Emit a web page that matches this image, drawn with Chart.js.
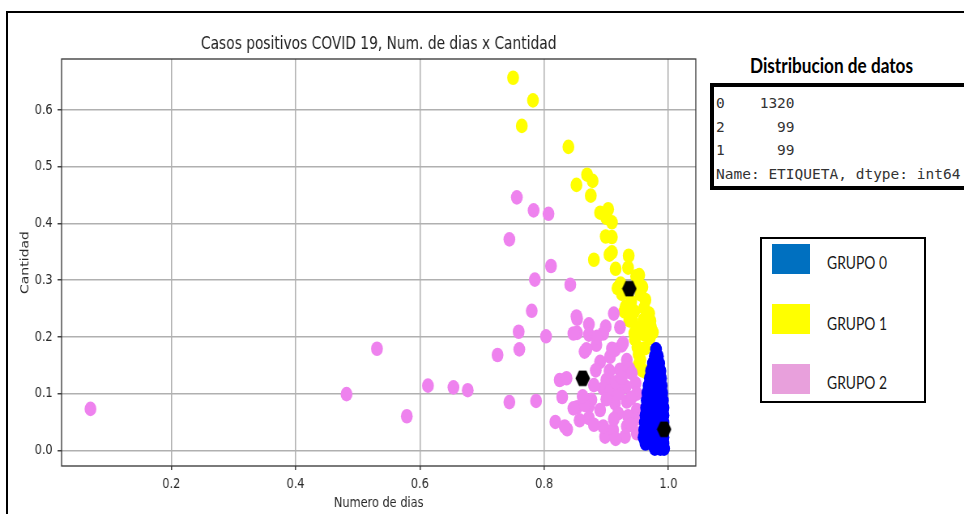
<!DOCTYPE html>
<html><head><meta charset="utf-8">
<script src="https://cdn.jsdelivr.net/npm/chart.js@4/dist/chart.umd.min.js"></script>
<style>
html,body{margin:0;padding:0;background:#fff;width:964px;height:514px;overflow:hidden;position:relative;}
#frame{position:absolute;left:6px;top:11px;width:1000px;height:600px;border-top:2px solid #000;border-left:2px solid #000;}
#wrap{position:absolute;left:0;top:0;width:877px;height:514px;transform:scaleX(0.81);transform-origin:0 0;}
#heading{position:absolute;left:750px;top:53px;font-family:Lato,'Open Sans',sans-serif;font-weight:700;font-size:20px;line-height:24px;white-space:nowrap;color:#000;transform-origin:0 0;}
#counts{position:absolute;left:710px;top:83px;width:262px;height:99px;border:4px solid #000;background:#fff;}
#counts pre{margin:0;padding:5px 0 0 2px;font-family:'DejaVu Sans Mono',monospace;font-size:14.5px;line-height:23.5px;color:#333;}
#legend{position:absolute;left:760px;top:237px;width:162px;height:162px;border:2px solid #000;background:#fff;}
.sw{position:absolute;left:10px;width:38px;height:30px;}
.lab{position:absolute;left:65px;font-family:Lato,'Open Sans',sans-serif;font-size:18px;line-height:24px;color:#1a1a1a;white-space:nowrap;transform-origin:0 0;}
</style>
</head>
<body>
<div id="frame"></div>
<div id="wrap"><canvas id="c" width="877" height="514"></canvas></div>
<div id="heading"></div>
<div id="counts"><pre id="countsText"></pre></div>
<div id="legend"></div>
<script>
// ---- data ----
const chartTitle = 'Casos positivos COVID 19, Num. de dias x Cantidad';
const xLabel = 'Numero de dias';
const yLabel = 'Cantidad';
const xTicks = [0.2, 0.4, 0.6, 0.8, 1.0];
const yTicks = [0.0, 0.1, 0.2, 0.3, 0.4, 0.5, 0.6];
const xRange = [0.0235, 1.044];
const yRange = [-0.0277, 0.690];

const grupoLabels = ['GRUPO 0', 'GRUPO 1', 'GRUPO 2'];
const etiquetaKeys = ['0', '2', '1'];
const etiquetaCounts = [1320, 99, 99];
const distTitle = 'Distribucion de datos';
const distFooter = 'Name: ETIQUETA, dtype: int64';

// GRUPO 0 (blue)
const grupo0 = [
 [0.980,0.178],
 [0.978,0.166],[0.983,0.166],
 [0.975,0.153],[0.985,0.153],
 [0.972,0.140],[0.981,0.140],[0.987,0.140],
 [0.970,0.127],[0.980,0.127],[0.988,0.127],
 [0.968,0.114],[0.978,0.114],[0.989,0.114],
 [0.966,0.101],[0.977,0.101],[0.990,0.101],
 [0.965,0.088],[0.976,0.088],[0.991,0.088],
 [0.964,0.075],[0.975,0.075],[0.985,0.075],[0.992,0.075],
 [0.963,0.062],[0.973,0.062],[0.983,0.062],[0.992,0.062],
 [0.962,0.049],[0.972,0.049],[0.982,0.049],[0.992,0.049],
 [0.961,0.036],[0.971,0.036],[0.981,0.036],[0.992,0.036],
 [0.960,0.023],[0.970,0.023],[0.981,0.023],[0.992,0.023],
 [0.963,0.012],[0.973,0.012],[0.983,0.012],[0.992,0.012],
 [0.978,0.003],[0.987,0.003],[0.993,0.003]
];
// GRUPO 1 (yellow)
const grupo1 = [
 [0.750,0.657],[0.782,0.617],[0.764,0.572],[0.839,0.535],[0.869,0.486],[0.878,0.475],
 [0.852,0.468],[0.875,0.449],[0.890,0.419],[0.903,0.425],[0.900,0.410],[0.909,0.402],
 [0.899,0.377],[0.909,0.376],[0.909,0.349],[0.880,0.336],[0.905,0.345],[0.936,0.343],
 [0.935,0.322],[0.915,0.320],[0.948,0.307],[0.953,0.309],[0.923,0.294],[0.918,0.286],
 [0.958,0.288],[0.925,0.276],[0.955,0.275],[0.963,0.265],[0.931,0.253],[0.929,0.245],
 [0.961,0.251],[0.969,0.241],[0.937,0.229],[0.942,0.228],[0.971,0.228],[0.972,0.217],
 [0.945,0.206],[0.975,0.208],[0.970,0.198],[0.946,0.196],[0.950,0.182],[0.962,0.180],
 [0.952,0.169],[0.955,0.159],[0.952,0.151],[0.958,0.141],[0.963,0.139],[0.940,0.262],
 [0.945,0.245],[0.960,0.230],[0.950,0.290],[0.960,0.205],[0.957,0.218]
];
// GRUPO 2 (violet)
const grupo2 = [
 [0.070,0.073],[0.482,0.099],[0.531,0.179],[0.579,0.060],[0.613,0.114],[0.654,0.111],
 [0.677,0.106],[0.725,0.168],[0.744,0.085],[0.756,0.446],[0.783,0.423],[0.807,0.417],
 [0.744,0.372],[0.811,0.325],[0.785,0.301],[0.842,0.292],[0.780,0.246],[0.759,0.209],
 [0.803,0.201],[0.760,0.178],[0.787,0.087],[0.829,0.094],[0.818,0.050],[0.837,0.037],
 [0.825,0.124],[0.836,0.127],[0.853,0.076],[0.872,0.078],[0.872,0.057],[0.853,0.232],
 [0.872,0.222],[0.853,0.207],[0.872,0.204],[0.899,0.218],[0.912,0.241],[0.922,0.217],
 [0.865,0.174],[0.884,0.186],[0.909,0.179],[0.925,0.185],[0.890,0.156],[0.906,0.165],
 [0.933,0.159],[0.937,0.144],[0.941,0.136],[0.883,0.141],[0.900,0.124],[0.922,0.142],
 [0.947,0.118],[0.895,0.109],[0.906,0.103],[0.931,0.112],[0.949,0.100],[0.890,0.071],
 [0.914,0.083],[0.933,0.086],[0.949,0.071],[0.898,0.024],[0.895,0.042],[0.919,0.065],
 [0.930,0.024],[0.933,0.042],[0.949,0.030],[0.911,0.036],[0.947,0.055],[0.876,0.089],
 [0.865,0.080],[0.847,0.074],[0.857,0.053],[0.833,0.042],[0.847,0.206],[0.895,0.206],
 [0.914,0.177],[0.927,0.189],[0.868,0.178],[0.852,0.236],[0.912,0.055],[0.935,0.060],
 [0.920,0.100],[0.915,0.120],[0.940,0.092],[0.925,0.128],[0.905,0.140],[0.880,0.115],
 [0.862,0.095],[0.880,0.045],[0.915,0.020],[0.940,0.045],[0.900,0.090],[0.885,0.200]
];
// centroides
const centroides = [[0.937,0.285],[0.862,0.127],[0.993,0.037]];

// ---- helpers ----
const toXY = arr => arr.map(p => ({x: p[0], y: p[1]}));
function hexagon(R, color) {
  const c = document.createElement('canvas');
  c.width = Math.ceil(2 * R) + 1;
  c.height = Math.ceil(Math.sqrt(3) * R) + 1;
  const g = c.getContext('2d');
  g.fillStyle = color;
  g.beginPath();
  for (let i = 0; i < 6; i++) {
    const a = Math.PI / 3 * i;
    const px = c.width / 2 + R * Math.cos(a), py = c.height / 2 + R * Math.sin(a);
    if (i) g.lineTo(px, py); else g.moveTo(px, py);
  }
  g.closePath(); g.fill();
  return c;
}
const spines = {
  id: 'spines',
  afterDraw(chart) {
    const {ctx, chartArea: a} = chart;
    ctx.save();
    ctx.strokeStyle = '#333';
    ctx.lineWidth = 1.3;
    ctx.strokeRect(a.left, a.top, a.right - a.left, a.bottom - a.top);
    ctx.restore();
  }
};
const tickFont = {family: "'DejaVu Sans', sans-serif", size: 14};
const fmt = v => Number(v).toFixed(1);

new Chart(document.getElementById('c'), {
  type: 'scatter',
  data: {
    datasets: [
      {label: 'centroides', data: toXY(centroides), pointStyle: hexagon(9, '#000'), pointRadius: 9, order: 0},
      {label: grupoLabels[0], data: toXY(grupo0), backgroundColor: '#0000ff', borderColor: '#0000ff', pointRadius: 7.3, pointBorderWidth: 0, order: 1},
      {label: grupoLabels[2], data: toXY(grupo2), backgroundColor: '#ee82ee', borderColor: '#ee82ee', pointRadius: 7.3, pointBorderWidth: 0, order: 2},
      {label: grupoLabels[1], data: toXY(grupo1), backgroundColor: '#ffff00', borderColor: '#ffff00', pointRadius: 7.3, pointBorderWidth: 0, order: 3}
    ]
  },
  options: {
    responsive: false, animation: false, devicePixelRatio: 1,
    layout: {padding: {left: 0, right: 18, top: 0, bottom: 0}},
    plugins: {
      legend: {display: false}, tooltip: {enabled: false},
      title: {display: true, text: chartTitle, fullSize: false, color: '#222',
        font: {family: "'DejaVu Sans', sans-serif", size: 17, weight: 'normal'}, padding: {top: 34, bottom: 4.6}}
    },
    scales: {
      x: {
        type: 'linear', min: xRange[0], max: xRange[1], z: 1,
        afterBuildTicks: s => { s.ticks = xTicks.map(v => ({value: v})); },
        afterFit: s => { s.height = 48; },
        border: {display: false},
        grid: {color: '#b0b0b0', lineWidth: 1.5, tickLength: 4, tickColor: '#444', drawTicks: true},
        ticks: {font: tickFont, color: '#2a2a2a', padding: 6, maxRotation: 0, autoSkip: false, callback: fmt},
        title: {display: true, text: xLabel, color: '#2a2a2a', font: tickFont, padding: {top: 0, bottom: 2.5}}
      },
      y: {
        type: 'linear', min: yRange[0], max: yRange[1], z: 1,
        afterBuildTicks: s => { s.ticks = yTicks.map(v => ({value: v})); },
        afterFit: s => { s.width = 76; },
        border: {display: false},
        grid: {color: '#b0b0b0', lineWidth: 1.5, tickLength: 5, tickColor: '#444', drawTicks: true},
        ticks: {font: tickFont, color: '#2a2a2a', padding: 6, autoSkip: false, callback: fmt},
        title: {display: true, text: yLabel, color: '#2a2a2a', font: tickFont, padding: {top: 22.5, bottom: 0}}
      }
    }
  },
  plugins: [spines]
});

// ---- right panel ----
function fitWidth(el, target) {
  const w = el.getBoundingClientRect().width;
  if (w > 0) el.style.transform = 'scaleX(' + (target / w) + ')';
  return target / w;
}
const heading = document.getElementById('heading');
heading.textContent = distTitle;
fitWidth(heading, 163);

const lines = etiquetaKeys.map((k, i) => k + String(etiquetaCounts[i]).padStart(8));
lines.push(distFooter);
document.getElementById('countsText').textContent = lines.join('\n');

const swatchColors = ['#0070c0', '#ffff00', '#e8a0dc'];
const swTops = [5, 65, 125];
const labTops = [10.5, 72, 131];
const legend = document.getElementById('legend');
let labScale = null;
grupoLabels.forEach((g, i) => {
  const sw = document.createElement('div');
  sw.className = 'sw'; sw.style.top = swTops[i] + 'px'; sw.style.background = swatchColors[i];
  legend.appendChild(sw);
  const lab = document.createElement('div');
  lab.className = 'lab'; lab.style.top = labTops[i] + 'px'; lab.textContent = g;
  legend.appendChild(lab);
  if (labScale === null) labScale = fitWidth(lab, 60);
  else lab.style.transform = 'scaleX(' + labScale + ')';
});
</script>
</body></html>
